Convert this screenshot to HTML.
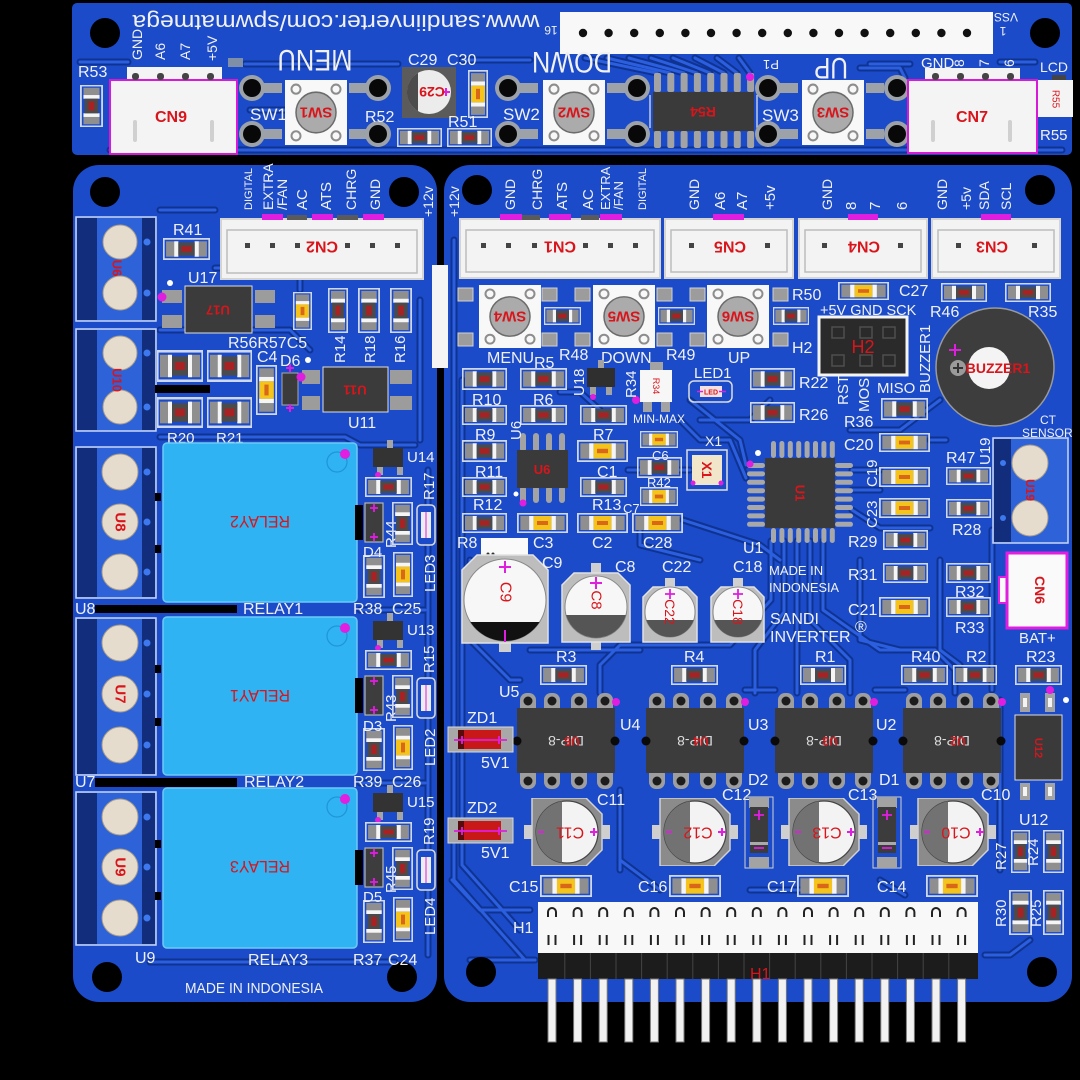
<!DOCTYPE html>
<html><head><meta charset="utf-8">
<style>
html,body{margin:0;padding:0;background:#000;width:1080px;height:1080px;overflow:hidden}
svg{display:block}
text{font-family:"Liberation Sans",Arial,sans-serif}
.w{fill:#f1f1f1}
.rd{fill:#d9151b;font-weight:bold}
.rn{fill:#d9151b;font-weight:normal}
</style></head><body>
<svg width="1080" height="1080" viewBox="0 0 1080 1080" xmlns="http://www.w3.org/2000/svg" font-size="16">
<defs>
<symbol id="rh" viewBox="0 0 46 20" preserveAspectRatio="none">
<rect x="0.8" y="0.8" width="44.4" height="18.4" fill="none" stroke="#cfd8ea" stroke-width="1.6"/>
<rect x="3" y="3" width="12" height="14" fill="#8f8f8f"/><rect x="31" y="3" width="12" height="14" fill="#8f8f8f"/>
<rect x="11" y="3" width="4" height="14" fill="#f5f5f5"/><rect x="31" y="3" width="4" height="14" fill="#f5f5f5"/>
<rect x="15" y="4" width="16" height="12" fill="#4b4b4b"/><rect x="18" y="7.5" width="10" height="5" fill="#a82224"/>
</symbol>
<symbol id="rv" viewBox="0 0 20 46" preserveAspectRatio="none">
<rect x="0.8" y="0.8" width="18.4" height="44.4" fill="none" stroke="#cfd8ea" stroke-width="1.6"/>
<rect x="3" y="3" width="14" height="12" fill="#8f8f8f"/><rect x="3" y="31" width="14" height="12" fill="#8f8f8f"/>
<rect x="3" y="11" width="14" height="4" fill="#f5f5f5"/><rect x="3" y="31" width="14" height="4" fill="#f5f5f5"/>
<rect x="4" y="15" width="12" height="16" fill="#4b4b4b"/><rect x="7.5" y="18" width="5" height="10" fill="#a82224"/>
</symbol>
<symbol id="ch" viewBox="0 0 46 20" preserveAspectRatio="none">
<rect x="0.8" y="0.8" width="44.4" height="18.4" fill="none" stroke="#cfd8ea" stroke-width="1.6"/>
<rect x="3" y="3" width="12" height="14" fill="#8f8f8f"/><rect x="31" y="3" width="12" height="14" fill="#8f8f8f"/>
<rect x="11" y="3" width="4" height="14" fill="#f5f5f5"/><rect x="31" y="3" width="4" height="14" fill="#f5f5f5"/>
<rect x="15" y="3" width="16" height="14" fill="#f4c41c"/><rect x="18" y="8" width="10" height="4" fill="#d8671a"/>
</symbol>
<symbol id="cv" viewBox="0 0 20 46" preserveAspectRatio="none">
<rect x="0.8" y="0.8" width="18.4" height="44.4" fill="none" stroke="#cfd8ea" stroke-width="1.6"/>
<rect x="3" y="3" width="14" height="12" fill="#8f8f8f"/><rect x="3" y="31" width="14" height="12" fill="#8f8f8f"/>
<rect x="3" y="11" width="14" height="4" fill="#f5f5f5"/><rect x="3" y="31" width="14" height="4" fill="#f5f5f5"/>
<rect x="3" y="15" width="14" height="16" fill="#f4c41c"/><rect x="8" y="18" width="4" height="10" fill="#d8671a"/>
</symbol>
<symbol id="sw" viewBox="0 0 62 64" preserveAspectRatio="none">
<rect width="62" height="64" fill="#f8f8f8"/>
<g fill="none" stroke="#8d8d8d" stroke-width="2"><circle cx="11" cy="9" r="4.5"/><circle cx="51" cy="9" r="4.5"/><circle cx="11" cy="55" r="4.5"/><circle cx="51" cy="55" r="4.5"/></g>
<circle cx="31" cy="32" r="20" fill="#ababab" stroke="#6b6b6b" stroke-width="1.5"/>
</symbol>
<symbol id="dip" viewBox="0 0 98 96" style="overflow:visible">
<g fill="#9e9e9e">
<rect x="3" y="0" width="16" height="22" rx="7"/><rect x="27" y="0" width="16" height="22" rx="7"/><rect x="54" y="0" width="16" height="22" rx="7"/><rect x="80" y="0" width="16" height="22" rx="7"/>
<rect x="3" y="74" width="16" height="22" rx="7"/><rect x="27" y="74" width="16" height="22" rx="7"/><rect x="54" y="74" width="16" height="22" rx="7"/><rect x="80" y="74" width="16" height="22" rx="7"/>
</g>
<g fill="#1c1c1c"><circle cx="11" cy="8" r="4.5"/><circle cx="35" cy="8" r="4.5"/><circle cx="62" cy="8" r="4.5"/><circle cx="88" cy="8" r="4.5"/>
<circle cx="11" cy="88" r="4.5"/><circle cx="35" cy="88" r="4.5"/><circle cx="62" cy="88" r="4.5"/><circle cx="88" cy="88" r="4.5"/></g>
<rect x="0" y="15" width="98" height="65" fill="#3c3c3c"/>
<circle cx="0" cy="48" r="4.5" fill="#0a0a0a"/><circle cx="98" cy="48" r="4.5" fill="#0a0a0a"/>
</symbol>
<symbol id="ec" viewBox="0 0 86 68">
<rect x="0" y="27" width="10" height="14" fill="#cfcfcf"/><rect x="76" y="27" width="10" height="14" fill="#cfcfcf"/>
<path d="M8 0 H62 L78 16 V52 L62 68 H8 Z" fill="#8b8b8b" stroke="#d2d2d2" stroke-width="1.5"/>
<circle cx="43" cy="34" r="31" fill="#f3f3f3" stroke="#444" stroke-width="1.2"/>
<path d="M38 3.4 A31 31 0 0 0 38 64.6 Z" fill="#727272"/>
<path d="M66 34 H74 M70 30 V38 M14 34 H20" stroke="#e01ee0" stroke-width="2"/>
</symbol>
<g id="tr" fill="none" stroke-linejoin="round" stroke-linecap="round">
<path d="M80 62 H128"/><path d="M245 64 H398"/><path d="M110 150 H1062"/><path d="M462 60 H530"/>
<path d="M585 58 L657 73"/><path d="M607 58 L670 73"/><path d="M629 58 L684 73"/><path d="M651 58 L697 73"/>
<path d="M673 58 L710 73"/><path d="M695 58 L724 73"/><path d="M717 58 L737 73"/><path d="M739 58 L750 73"/>
<path d="M870 64 H910"/><path d="M1000 62 H1035"/><path d="M250 110 H285"/><path d="M860 68 H900 L905 78"/>
<path d="M160 330 H290 L310 350"/><path d="M215 268 H280 L300 250 H420"/><path d="M420 300 V440"/>
<path d="M428 470 V955"/><path d="M415 445 H360 L345 437 H160"/><path d="M360 610 H425"/><path d="M360 783 H425"/>
<path d="M150 962 H395"/><path d="M160 210 H215"/><path d="M300 275 V290"/>
<path d="M454 240 V880 L525 960"/><path d="M462 380 V865 L520 930"/><path d="M470 560 V640 L510 680 H520"/>
<path d="M560 392 H580 L600 410"/><path d="M690 400 L740 440 L746 465"/><path d="M680 420 L700 440 H730 L746 478"/>
<path d="M628 470 H690"/><path d="M683 520 L760 545 L780 560"/>
<path d="M771 541 V600 L730 645 H620 L600 665 V693"/><path d="M784 541 V612 L755 650 V693"/>
<path d="M797 541 V693"/><path d="M810 541 V620 L850 660 V693"/><path d="M823 541 V610 L880 650 H935 L955 670 V693"/>
<path d="M852 470 H880"/><path d="M852 490 H880"/><path d="M852 510 L880 528 H930"/><path d="M930 440 H946"/>
<path d="M940 560 V650 L960 665"/><path d="M992 530 V690"/><path d="M452 880 L480 910 H530"/>
<path d="M620 790 V870"/><path d="M745 690 H775"/><path d="M875 690 H905"/><path d="M1000 700 V870"/>
<path d="M620 860 L660 890"/><path d="M750 890 H800"/><path d="M880 880 L905 895"/><path d="M470 960 H535"/>
<path d="M985 955 H1010 L1030 940"/><path d="M700 420 H750 L770 400"/><path d="M850 430 L900 430 L940 400"/>
<path d="M530 650 H640"/><path d="M860 560 V640 L900 650"/><path d="M640 520 V545 L700 560"/>
</g>
</defs>
<rect width="1080" height="1080" fill="#000"/>
<!-- boards -->
<rect x="72" y="3" width="1000" height="152" rx="5" fill="#1b4bc9"/>
<rect x="73" y="165" width="364" height="837" rx="26" fill="#1b4bc9"/>
<rect x="444" y="165" width="628" height="837" rx="26" fill="#1b4bc9"/>
<use href="#tr" stroke="#0f3391" stroke-width="7"/>
<use href="#tr" stroke="#2b5fdf" stroke-width="3"/>
<!-- holes -->
<g fill="#000">
<circle cx="105" cy="33" r="15"/><circle cx="1045" cy="33" r="15"/>
<circle cx="105" cy="192" r="15"/><circle cx="404" cy="192" r="15"/><circle cx="107" cy="977" r="15"/><circle cx="402" cy="977" r="15"/>
<circle cx="477" cy="190" r="15"/><circle cx="1040" cy="190" r="15"/><circle cx="481" cy="972" r="15"/><circle cx="1042" cy="972" r="15"/>
</g>

<!-- ============ TOP BOARD ============ -->
<text class="w" font-size="22" text-anchor="middle" textLength="407" lengthAdjust="spacingAndGlyphs" transform="translate(336,15) rotate(180)">www.sandiinverter.com/spwmatmega</text>
<rect x="560" y="12" width="433" height="42" fill="#f8f8f8"/>
<g fill="#111">
<circle cx="583" cy="33" r="4.2"/><circle cx="608.6" cy="33" r="4.2"/><circle cx="634.2" cy="33" r="4.2"/><circle cx="659.8" cy="33" r="4.2"/>
<circle cx="685.4" cy="33" r="4.2"/><circle cx="711" cy="33" r="4.2"/><circle cx="736.6" cy="33" r="4.2"/><circle cx="762.2" cy="33" r="4.2"/>
<circle cx="787.8" cy="33" r="4.2"/><circle cx="813.4" cy="33" r="4.2"/><circle cx="839" cy="33" r="4.2"/><circle cx="864.6" cy="33" r="4.2"/>
<circle cx="890.2" cy="33" r="4.2"/><circle cx="915.8" cy="33" r="4.2"/><circle cx="941.4" cy="33" r="4.2"/><circle cx="967" cy="33" r="4.2"/>
</g>
<text class="w" font-size="12" text-anchor="middle" transform="translate(551,26) rotate(180)">16</text>
<text class="w" font-size="12" text-anchor="middle" transform="translate(1006,13) rotate(180)">VSS</text>
<text class="w" font-size="12" text-anchor="middle" transform="translate(1003,27) rotate(180)">1</text>

<text class="w" font-size="14" transform="translate(142,60) rotate(-90)">GND</text>
<text class="w" font-size="14" transform="translate(165,60) rotate(-90)">A6</text>
<text class="w" font-size="14" transform="translate(190,60) rotate(-90)">A7</text>
<text class="w" font-size="14" transform="translate(217,61) rotate(-90)">+5V</text>
<rect x="228" y="58" width="15" height="9" fill="#7f8fa8"/>
<text class="w" x="78" y="77">R53</text>
<use href="#rv" x="80" y="85" width="23" height="42"/>
<!-- CN9 -->
<rect x="127" y="67" width="95" height="15" fill="#f4f4f4"/>
<rect x="110" y="80" width="127" height="74" fill="#f4f4f4" stroke="#d81ad8" stroke-width="2"/>
<g fill="#444"><rect x="132" y="73" width="7" height="7" rx="3"/><rect x="157" y="73" width="7" height="7" rx="3"/><rect x="182" y="73" width="7" height="7" rx="3"/><rect x="207" y="73" width="7" height="7" rx="3"/></g>
<path d="M135 122 V140 M212 122 V140" stroke="#d0d0d0" stroke-width="4" stroke-linecap="round"/>
<text class="rd" font-size="16" x="171" y="122" text-anchor="middle">CN9</text>
<!-- SW1 -->
<g fill="#9da2a8"><rect x="264" y="83" width="18" height="10"/><rect x="264" y="129" width="18" height="10"/><rect x="349" y="83" width="18" height="10"/><rect x="349" y="129" width="18" height="10"/>
<circle cx="252" cy="88" r="13"/><circle cx="252" cy="134" r="13"/><circle cx="378" cy="88" r="13"/><circle cx="378" cy="134" r="13"/></g>
<g fill="#080808"><circle cx="252" cy="88" r="9"/><circle cx="252" cy="134" r="9"/><circle cx="378" cy="88" r="9"/><circle cx="378" cy="134" r="9"/></g>
<use href="#sw" x="285" y="80" width="62" height="65"/>
<text class="rd" font-size="15" text-anchor="middle" dominant-baseline="central" transform="translate(316,112) rotate(180)">SW1</text>
<text class="w" font-size="17" x="250" y="120">SW1</text>
<text class="w" font-size="30" text-anchor="middle" textLength="75" lengthAdjust="spacingAndGlyphs" transform="translate(315,50) rotate(180)">MENU</text>
<!-- C29 C30 -->
<text class="w" x="408" y="65">C29</text><text class="w" x="447" y="65">C30</text>
<rect x="402" y="67" width="54" height="51" fill="#5b5b5b"/>
<circle cx="429" cy="92" r="22" fill="#ececec"/>
<path d="M418 72.9 A22 22 0 0 0 418 111.1 Z" fill="#4c4c4c"/>
<path d="M442 92 H450 M446 88 V96" stroke="#e01ee0" stroke-width="2"/>
<text class="rd" font-size="14" text-anchor="middle" dominant-baseline="central" transform="translate(432,92) rotate(180)">C29</text>
<use href="#cv" x="468" y="70" width="20" height="48"/>
<text class="w" x="365" y="122">R52</text><text class="w" x="448" y="127">R51</text>
<use href="#rh" x="397" y="128" width="45" height="19"/><use href="#rh" x="447" y="128" width="45" height="19"/>
<!-- SW2 -->
<g fill="#9da2a8"><rect x="520" y="83" width="18" height="10"/><rect x="520" y="129" width="18" height="10"/><rect x="607" y="83" width="18" height="10"/><rect x="607" y="129" width="18" height="10"/>
<circle cx="508" cy="88" r="13"/><circle cx="508" cy="134" r="13"/><circle cx="637" cy="88" r="13"/><circle cx="637" cy="134" r="13"/></g>
<g fill="#080808"><circle cx="508" cy="88" r="9"/><circle cx="508" cy="134" r="9"/><circle cx="637" cy="88" r="9"/><circle cx="637" cy="134" r="9"/></g>
<use href="#sw" x="543" y="80" width="62" height="65"/>
<text class="rd" font-size="15" text-anchor="middle" dominant-baseline="central" transform="translate(574,112) rotate(180)">SW2</text>
<text class="w" font-size="17" x="503" y="120">SW2</text>
<text class="w" font-size="30" text-anchor="middle" textLength="80" lengthAdjust="spacingAndGlyphs" transform="translate(572,52) rotate(180)">DOWN</text>
<!-- R54 IC -->
<g fill="#a3a3a3">
<rect x="654" y="73" width="7" height="19" rx="2"/><rect x="667.3" y="73" width="7" height="19" rx="2"/><rect x="680.6" y="73" width="7" height="19" rx="2"/><rect x="693.9" y="73" width="7" height="19" rx="2"/>
<rect x="707.2" y="73" width="7" height="19" rx="2"/><rect x="720.5" y="73" width="7" height="19" rx="2"/><rect x="733.8" y="73" width="7" height="19" rx="2"/><rect x="747.1" y="73" width="7" height="19" rx="2"/>
<rect x="654" y="131" width="7" height="17" rx="2"/><rect x="667.3" y="131" width="7" height="17" rx="2"/><rect x="680.6" y="131" width="7" height="17" rx="2"/><rect x="693.9" y="131" width="7" height="17" rx="2"/>
<rect x="707.2" y="131" width="7" height="17" rx="2"/><rect x="720.5" y="131" width="7" height="17" rx="2"/><rect x="733.8" y="131" width="7" height="17" rx="2"/><rect x="747.1" y="131" width="7" height="17" rx="2"/>
</g>
<rect x="653" y="92" width="101" height="39" fill="#3a3a3a"/>
<path d="M650 95 V128 M757 95 V128" stroke="#e8e8e8" stroke-width="1.2"/>
<circle cx="750" cy="77" r="4" fill="#e01ee0"/>
<text class="rd" font-size="14" text-anchor="middle" dominant-baseline="central" transform="translate(703,112) rotate(180)">R54</text>
<text class="w" font-size="13" text-anchor="middle" transform="translate(771,60) rotate(180)">P1</text>
<!-- SW3 -->
<g fill="#9da2a8"><rect x="780" y="83" width="18" height="10"/><rect x="780" y="129" width="18" height="10"/><rect x="866" y="83" width="18" height="10"/><rect x="866" y="129" width="18" height="10"/>
<circle cx="768" cy="88" r="13"/><circle cx="768" cy="134" r="13"/><circle cx="897" cy="88" r="13"/><circle cx="897" cy="134" r="13"/></g>
<g fill="#080808"><circle cx="768" cy="88" r="9"/><circle cx="768" cy="134" r="9"/><circle cx="897" cy="88" r="9"/><circle cx="897" cy="134" r="9"/></g>
<use href="#sw" x="802" y="80" width="62" height="65"/>
<text class="rd" font-size="15" text-anchor="middle" dominant-baseline="central" transform="translate(833,112) rotate(180)">SW3</text>
<text class="w" font-size="17" x="762" y="121">SW3</text>
<text class="w" font-size="30" text-anchor="middle" textLength="34" lengthAdjust="spacingAndGlyphs" transform="translate(831,58) rotate(180)">UP</text>
<!-- CN7 -->
<text class="w" font-size="15" x="921" y="68">GND</text>
<text class="w" font-size="14" transform="translate(964,67) rotate(-90)">8</text>
<text class="w" font-size="14" transform="translate(989,67) rotate(-90)">7</text>
<text class="w" font-size="14" transform="translate(1014,67) rotate(-90)">6</text>
<rect x="925" y="68" width="95" height="14" fill="#f4f4f4"/>
<rect x="908" y="80" width="129" height="73" fill="#f4f4f4" stroke="#d81ad8" stroke-width="2"/>
<g fill="#444"><rect x="932" y="73" width="7" height="7" rx="3"/><rect x="957" y="73" width="7" height="7" rx="3"/><rect x="982" y="73" width="7" height="7" rx="3"/><rect x="1007" y="73" width="7" height="7" rx="3"/></g>
<path d="M933 122 V140 M1010 122 V140" stroke="#d0d0d0" stroke-width="4" stroke-linecap="round"/>
<text class="rd" font-size="16" x="972" y="122" text-anchor="middle">CN7</text>
<text class="w" font-size="14" x="1040" y="72">LCD</text>
<rect x="1052" y="75" width="14" height="8" fill="#444"/>
<rect x="1038" y="80" width="35" height="37" fill="#f4f4f4"/>
<text class="rn" font-size="10" text-anchor="middle" dominant-baseline="central" transform="translate(1055,99) rotate(90)">R55</text>
<text class="w" font-size="15" x="1040" y="140">R55</text>

<!-- ============ LEFT BOARD ============ -->
<rect x="432" y="265" width="16" height="103" fill="#f5f5f5"/>
<g stroke="#c9d6f2" stroke-width="1.5" fill="#2d62d8">
<rect x="76" y="217" width="80" height="104"/><rect x="76" y="329" width="80" height="102"/>
<rect x="76" y="447" width="80" height="151"/><rect x="76" y="618" width="80" height="157"/><rect x="76" y="792" width="80" height="153"/>
</g>
<g fill="#112d7c">
<rect x="77" y="218" width="20" height="102"/><rect x="142" y="218" width="13" height="102"/>
<rect x="77" y="330" width="20" height="100"/><rect x="142" y="330" width="13" height="100"/>
<rect x="77" y="448" width="20" height="149"/><rect x="142" y="448" width="13" height="149"/>
<rect x="77" y="619" width="20" height="155"/><rect x="142" y="619" width="13" height="155"/>
<rect x="77" y="793" width="20" height="151"/><rect x="142" y="793" width="13" height="151"/>
</g>
<g fill="#e6dccd" stroke="#a79c8c" stroke-width="1">
<circle cx="120" cy="242" r="17"/><circle cx="120" cy="293" r="17"/>
<circle cx="120" cy="353" r="17"/><circle cx="120" cy="407" r="17"/>
<circle cx="120" cy="472" r="18"/><circle cx="120" cy="522" r="18"/><circle cx="120" cy="572" r="18"/>
<circle cx="120" cy="643" r="18"/><circle cx="120" cy="694" r="18"/><circle cx="120" cy="745" r="18"/>
<circle cx="120" cy="817" r="18"/><circle cx="120" cy="867" r="18"/><circle cx="120" cy="918" r="18"/>
</g>
<g fill="#3d78ee">
<circle cx="147" cy="242" r="3.5"/><circle cx="147" cy="293" r="3.5"/><circle cx="147" cy="353" r="3.5"/><circle cx="147" cy="407" r="3.5"/>
<circle cx="147" cy="472" r="3.5"/><circle cx="147" cy="522" r="3.5"/><circle cx="147" cy="572" r="3.5"/>
<circle cx="147" cy="643" r="3.5"/><circle cx="147" cy="694" r="3.5"/><circle cx="147" cy="745" r="3.5"/>
<circle cx="147" cy="817" r="3.5"/><circle cx="147" cy="867" r="3.5"/><circle cx="147" cy="918" r="3.5"/>
</g>
<g fill="#000"><rect x="155" y="493" width="6" height="8"/><rect x="155" y="545" width="6" height="8"/><rect x="155" y="665" width="6" height="8"/><rect x="155" y="718" width="6" height="8"/><rect x="155" y="840" width="6" height="8"/><rect x="155" y="892" width="6" height="8"/></g>
<text class="rd" font-size="13" text-anchor="middle" dominant-baseline="central" transform="translate(117,268) rotate(90)">U6</text>
<text class="rd" font-size="13" text-anchor="middle" dominant-baseline="central" transform="translate(117,380) rotate(90)">U10</text>
<text class="rd" font-size="15" text-anchor="middle" dominant-baseline="central" transform="translate(120,522) rotate(90)">U8</text>
<text class="rd" font-size="15" text-anchor="middle" dominant-baseline="central" transform="translate(120,694) rotate(90)">U7</text>
<text class="rd" font-size="15" text-anchor="middle" dominant-baseline="central" transform="translate(120,867) rotate(90)">U9</text>
<!-- CN2 -->
<text class="w" font-size="11" transform="translate(252,210) rotate(-90)">DIGITAL</text>
<text class="w" font-size="14" transform="translate(273,210) rotate(-90)">EXTRA</text>
<text class="w" font-size="14" transform="translate(287,210) rotate(-90)">/FAN</text>
<text class="w" font-size="15" transform="translate(307,210) rotate(-90)">AC</text>
<text class="w" font-size="15" transform="translate(331,210) rotate(-90)">ATS</text>
<text class="w" font-size="14" transform="translate(356,210) rotate(-90)">CHRG</text>
<text class="w" font-size="14" transform="translate(380,210) rotate(-90)">GND</text>
<text class="w" font-size="14" transform="translate(433,217) rotate(-90)">+12v</text>
<rect x="221" y="219" width="202" height="60" fill="#f3f3f3" stroke="#d4d4d4" stroke-width="2"/>
<rect x="227" y="230" width="190" height="43" fill="none" stroke="#bdbdbd" stroke-width="1.5"/>
<g fill="#444"><rect x="245" y="243" width="5" height="5"/><rect x="270" y="243" width="5" height="5"/><rect x="295" y="243" width="5" height="5"/><rect x="345" y="243" width="5" height="5"/><rect x="370" y="243" width="5" height="5"/><rect x="395" y="243" width="5" height="5"/></g>
<g fill="#e01ee0"><rect x="262" y="214" width="21" height="6"/><rect x="312" y="214" width="21" height="6"/><rect x="363" y="214" width="21" height="6"/></g>
<g fill="#5a5a5a"><rect x="287" y="215" width="20" height="5"/><rect x="337" y="215" width="21" height="5"/></g>
<text class="rd" font-size="16" text-anchor="middle" dominant-baseline="central" transform="translate(322,246) rotate(180)">CN2</text>
<!-- R41 U17 -->
<text class="w" x="173" y="235">R41</text>
<use href="#rh" x="163" y="238" width="47" height="22"/>
<text class="w" x="188" y="283">U17</text>
<g fill="#9c9c9c"><rect x="162" y="290" width="20" height="13"/><rect x="162" y="315" width="20" height="13"/><rect x="255" y="290" width="20" height="13"/><rect x="255" y="315" width="20" height="13"/></g>
<rect x="185" y="286" width="67" height="47" fill="#3b3b3b" stroke="#dcdcdc" stroke-width="1"/>
<circle cx="162" cy="297" r="4.5" fill="#e01ee0"/><circle cx="170" cy="283" r="3" fill="#fff"/>
<text class="rd" font-size="13" text-anchor="middle" dominant-baseline="central" transform="translate(218,310) rotate(180)">U17</text>
<use href="#cv" x="293" y="292" width="19" height="38"/>
<use href="#rv" x="328" y="288" width="20" height="45"/><use href="#rv" x="358" y="288" width="22" height="45"/><use href="#rv" x="390" y="288" width="22" height="45"/>
<text class="w" x="228" y="348">R56R57C5</text>
<text class="w" font-size="15" transform="translate(345,363) rotate(-90)">R14</text>
<text class="w" font-size="15" transform="translate(375,363) rotate(-90)">R18</text>
<text class="w" font-size="15" transform="translate(405,363) rotate(-90)">R16</text>
<text class="w" x="257" y="362">C4</text><text class="w" x="280" y="366">D6</text>
<use href="#rh" x="157" y="350" width="46" height="32"/><use href="#rh" x="207" y="350" width="45" height="32"/>
<use href="#rh" x="157" y="397" width="46" height="31"/><use href="#rh" x="207" y="397" width="45" height="31"/>
<rect x="155" y="385" width="55" height="8" fill="#000"/>
<use href="#cv" x="256" y="365" width="21" height="50"/>
<rect x="282" y="373" width="16" height="32" fill="#3b3b3b" stroke="#aaa" stroke-width="1"/>
<path d="M286 368 H294 M290 364 V372 M286 408 H294 M290 404 V412" stroke="#e01ee0" stroke-width="2"/>
<g fill="#9c9c9c"><rect x="302" y="370" width="18" height="14"/><rect x="302" y="396" width="18" height="14"/><rect x="390" y="370" width="22" height="14"/><rect x="390" y="396" width="22" height="14"/></g>
<rect x="323" y="367" width="65" height="45" fill="#3b3b3b" stroke="#dcdcdc" stroke-width="1"/>
<circle cx="301" cy="377" r="4.5" fill="#e01ee0"/><circle cx="308" cy="360" r="3" fill="#fff"/>
<text class="rd" font-size="13" text-anchor="middle" dominant-baseline="central" transform="translate(355,390) rotate(180)">U11</text>
<text class="w" x="348" y="428">U11</text>
<text class="w" font-size="15" x="167" y="443">R20</text><text class="w" font-size="15" x="216" y="443">R21</text>

<!-- relays -->
<g fill="#2fb3f3" stroke="#6cc9f7" stroke-width="1.5">
<rect x="163" y="443" width="194" height="159" rx="4"/><rect x="163" y="617" width="194" height="158" rx="4"/><rect x="163" y="788" width="194" height="160" rx="4"/>
</g>
<g fill="none" stroke="#1f95d6" stroke-width="1.2"><circle cx="337" cy="462" r="10"/><circle cx="337" cy="636" r="10"/><circle cx="337" cy="807" r="10"/></g>
<g fill="#e21ee0"><circle cx="345" cy="454" r="5"/><circle cx="345" cy="628" r="5"/><circle cx="345" cy="799" r="5"/></g>
<text class="rn" font-size="17" text-anchor="middle" textLength="60" lengthAdjust="spacingAndGlyphs" transform="translate(260,516) rotate(180)">RELAY2</text>
<text class="rn" font-size="17" text-anchor="middle" textLength="60" lengthAdjust="spacingAndGlyphs" transform="translate(260,690) rotate(180)">RELAY1</text>
<text class="rn" font-size="17" text-anchor="middle" textLength="60" lengthAdjust="spacingAndGlyphs" transform="translate(260,861) rotate(180)">RELAY3</text>
<g fill="#000"><rect x="95" y="605" width="142" height="8"/><rect x="95" y="778" width="142" height="9"/>
<rect x="355" y="505" width="8" height="35"/><rect x="355" y="678" width="8" height="35"/><rect x="355" y="850" width="8" height="35"/></g>

<!-- relay column block o=0 -->
<text class="w" font-size="15" transform="translate(396,548) rotate(-90)">R44</text>
<rect x="373" y="448" width="30" height="19" fill="#333"/>
<g fill="#a5a5a5"><rect x="387" y="440" width="6" height="8"/><rect x="377" y="467" width="6" height="8"/><rect x="397" y="467" width="6" height="8"/></g>
<circle cx="378" cy="475" r="3" fill="#e01ee0"/>
<use href="#rh" x="365" y="477" width="47" height="20"/>
<rect x="365" y="503" width="18" height="39" fill="#3d3d3d" stroke="#b5b5b5" stroke-width="1.2"/>
<path d="M370 508 H378 M374 504 V512 M370 537 H378 M374 533 V541" stroke="#e01ee0" stroke-width="1.8"/>
<use href="#rv" x="392" y="502" width="21" height="43"/>
<rect x="417" y="505" width="18" height="40" rx="4" fill="#1b4bc9" stroke="#dcdcdc" stroke-width="1.5"/>
<rect x="421" y="512" width="10" height="26" fill="#ededed"/><path d="M426 512 V538" stroke="#e01ee0" stroke-width="1"/>
<use href="#rv" x="363" y="555" width="22" height="43"/><use href="#cv" x="393" y="552" width="20" height="45"/>
<text class="w" font-size="15" x="407" y="462">U14</text>
<text class="w" font-size="15" transform="translate(434,500) rotate(-90)">R17</text>
<text class="w" font-size="15" x="363" y="557">D4</text>
<text class="w" font-size="15" transform="translate(435,592) rotate(-90)">LED3</text>
<text class="w" x="353" y="614">R38</text><text class="w" x="392" y="614">C25</text>
<text class="w" x="75" y="614">U8</text><text class="w" x="243" y="614">RELAY1</text>

<!-- o=173 -->
<text class="w" font-size="15" transform="translate(396,722) rotate(-90)">R43</text>
<rect x="373" y="621" width="30" height="19" fill="#333"/>
<g fill="#a5a5a5"><rect x="387" y="613" width="6" height="8"/><rect x="377" y="640" width="6" height="8"/><rect x="397" y="640" width="6" height="8"/></g>
<circle cx="378" cy="648" r="3" fill="#e01ee0"/>
<use href="#rh" x="365" y="650" width="47" height="20"/>
<rect x="365" y="676" width="18" height="39" fill="#3d3d3d" stroke="#b5b5b5" stroke-width="1.2"/>
<path d="M370 681 H378 M374 677 V685 M370 710 H378 M374 706 V714" stroke="#e01ee0" stroke-width="1.8"/>
<use href="#rv" x="392" y="675" width="21" height="43"/>
<rect x="417" y="678" width="18" height="40" rx="4" fill="#1b4bc9" stroke="#dcdcdc" stroke-width="1.5"/>
<rect x="421" y="685" width="10" height="26" fill="#ededed"/><path d="M426 685 V711" stroke="#e01ee0" stroke-width="1"/>
<use href="#rv" x="363" y="728" width="22" height="43"/><use href="#cv" x="393" y="725" width="20" height="45"/>
<text class="w" font-size="15" x="407" y="635">U13</text>
<text class="w" font-size="15" transform="translate(434,673) rotate(-90)">R15</text>
<text class="w" font-size="15" x="363" y="731">D3</text>
<text class="w" font-size="15" transform="translate(435,766) rotate(-90)">LED2</text>
<text class="w" x="353" y="787">R39</text><text class="w" x="392" y="787">C26</text>
<text class="w" x="75" y="787">U7</text><text class="w" x="244" y="787">RELAY2</text>

<!-- o=345 -->
<text class="w" font-size="15" transform="translate(396,893) rotate(-90)">R45</text>
<rect x="373" y="793" width="30" height="19" fill="#333"/>
<g fill="#a5a5a5"><rect x="387" y="785" width="6" height="8"/><rect x="377" y="812" width="6" height="8"/><rect x="397" y="812" width="6" height="8"/></g>
<circle cx="378" cy="820" r="3" fill="#e01ee0"/>
<use href="#rh" x="365" y="822" width="47" height="20"/>
<rect x="365" y="848" width="18" height="39" fill="#3d3d3d" stroke="#b5b5b5" stroke-width="1.2"/>
<path d="M370 853 H378 M374 849 V857 M370 882 H378 M374 878 V886" stroke="#e01ee0" stroke-width="1.8"/>
<use href="#rv" x="392" y="847" width="21" height="43"/>
<rect x="417" y="850" width="18" height="40" rx="4" fill="#1b4bc9" stroke="#dcdcdc" stroke-width="1.5"/>
<rect x="421" y="857" width="10" height="26" fill="#ededed"/><path d="M426 857 V883" stroke="#e01ee0" stroke-width="1"/>
<use href="#rv" x="363" y="900" width="22" height="43"/><use href="#cv" x="393" y="897" width="20" height="45"/>
<text class="w" font-size="15" x="407" y="807">U15</text>
<text class="w" font-size="15" transform="translate(434,845) rotate(-90)">R19</text>
<text class="w" font-size="15" x="363" y="902">D5</text>
<text class="w" font-size="15" transform="translate(435,935) rotate(-90)">LED4</text>
<text class="w" x="353" y="965">R37</text><text class="w" x="388" y="965">C24</text>
<text class="w" x="135" y="963">U9</text><text class="w" x="248" y="965">RELAY3</text>
<text class="w" font-size="15" x="185" y="993" textLength="138" lengthAdjust="spacingAndGlyphs">MADE IN INDONESIA</text>

<!-- ============ RIGHT BOARD ============ -->
<text class="w" font-size="14" transform="translate(459,217) rotate(-90)">+12v</text>
<text class="w" font-size="14" transform="translate(515,210) rotate(-90)">GND</text>
<text class="w" font-size="14" transform="translate(542,210) rotate(-90)">CHRG</text>
<text class="w" font-size="15" transform="translate(567,210) rotate(-90)">ATS</text>
<text class="w" font-size="15" transform="translate(593,210) rotate(-90)">AC</text>
<text class="w" font-size="13" transform="translate(610,210) rotate(-90)">EXTRA</text>
<text class="w" font-size="13" transform="translate(623,210) rotate(-90)">/FAN</text>
<text class="w" font-size="11" transform="translate(646,210) rotate(-90)">DIGITAL</text>
<text class="w" font-size="14" transform="translate(699,210) rotate(-90)">GND</text>
<text class="w" font-size="15" transform="translate(725,210) rotate(-90)">A6</text>
<text class="w" font-size="15" transform="translate(747,210) rotate(-90)">A7</text>
<text class="w" font-size="15" transform="translate(775,210) rotate(-90)">+5v</text>
<text class="w" font-size="14" transform="translate(832,210) rotate(-90)">GND</text>
<text class="w" font-size="15" transform="translate(856,210) rotate(-90)">8</text>
<text class="w" font-size="15" transform="translate(880,210) rotate(-90)">7</text>
<text class="w" font-size="15" transform="translate(907,210) rotate(-90)">6</text>
<text class="w" font-size="14" transform="translate(947,210) rotate(-90)">GND</text>
<text class="w" font-size="14" transform="translate(971,210) rotate(-90)">+5v</text>
<text class="w" font-size="14" transform="translate(989,210) rotate(-90)">SDA</text>
<text class="w" font-size="14" transform="translate(1011,210) rotate(-90)">SCL</text>
<g fill="#f3f3f3" stroke="#d4d4d4" stroke-width="2">
<rect x="460" y="219" width="200" height="59"/><rect x="665" y="219" width="128" height="59"/><rect x="799" y="219" width="128" height="59"/><rect x="932" y="219" width="128" height="59"/>
</g>
<g fill="none" stroke="#bdbdbd" stroke-width="1.5">
<rect x="466" y="230" width="188" height="42"/><rect x="671" y="230" width="116" height="42"/><rect x="805" y="230" width="116" height="42"/><rect x="938" y="230" width="116" height="42"/>
</g>
<g fill="#444">
<rect x="481" y="243" width="5" height="5"/><rect x="506" y="243" width="5" height="5"/><rect x="532" y="243" width="5" height="5"/><rect x="583" y="243" width="5" height="5"/><rect x="608" y="243" width="5" height="5"/><rect x="633" y="243" width="5" height="5"/>
<rect x="689" y="243" width="5" height="5"/><rect x="765" y="243" width="5" height="5"/><rect x="822" y="243" width="5" height="5"/><rect x="898" y="243" width="5" height="5"/>
<rect x="956" y="243" width="5" height="5"/><rect x="1032" y="243" width="5" height="5"/>
</g>
<g fill="#e01ee0"><rect x="500" y="214" width="22" height="6"/><rect x="549" y="214" width="22" height="6"/><rect x="600" y="214" width="22" height="6"/>
<rect x="713" y="214" width="31" height="6"/><rect x="848" y="214" width="30" height="6"/><rect x="981" y="214" width="30" height="6"/></g>
<g fill="#5a5a5a"><rect x="522" y="215" width="18" height="5"/><rect x="581" y="215" width="18" height="5"/></g>
<text class="rd" font-size="16" text-anchor="middle" dominant-baseline="central" transform="translate(560,246) rotate(180)">CN1</text>
<text class="rd" font-size="16" text-anchor="middle" dominant-baseline="central" transform="translate(730,246) rotate(180)">CN5</text>
<text class="rd" font-size="16" text-anchor="middle" dominant-baseline="central" transform="translate(864,246) rotate(180)">CN4</text>
<text class="rd" font-size="16" text-anchor="middle" dominant-baseline="central" transform="translate(992,246) rotate(180)">CN3</text>
<!-- switches -->
<g fill="#9c9c9c" stroke="#d0d0d0" stroke-width="1">
<rect x="458" y="288" width="15" height="13"/><rect x="458" y="333" width="15" height="13"/><rect x="542" y="288" width="15" height="13"/><rect x="542" y="333" width="15" height="13"/>
<rect x="575" y="288" width="15" height="13"/><rect x="575" y="333" width="15" height="13"/><rect x="657" y="288" width="15" height="13"/><rect x="657" y="333" width="15" height="13"/>
<rect x="690" y="288" width="15" height="13"/><rect x="690" y="333" width="15" height="13"/><rect x="773" y="288" width="15" height="13"/><rect x="773" y="333" width="15" height="13"/>
</g>
<use href="#sw" x="479" y="285" width="62" height="63"/><use href="#sw" x="593" y="285" width="62" height="63"/><use href="#sw" x="707" y="285" width="62" height="63"/>
<text class="rd" font-size="15" text-anchor="middle" dominant-baseline="central" transform="translate(510,316) rotate(180)">SW4</text>
<text class="rd" font-size="15" text-anchor="middle" dominant-baseline="central" transform="translate(624,316) rotate(180)">SW5</text>
<text class="rd" font-size="15" text-anchor="middle" dominant-baseline="central" transform="translate(738,316) rotate(180)">SW6</text>
<use href="#rh" x="544" y="307" width="37" height="18"/><use href="#rh" x="658" y="307" width="37" height="18"/><use href="#rh" x="773" y="307" width="36" height="18"/>
<text class="w" x="487" y="363">MENU</text><text class="w" x="534" y="368">R5</text><text class="w" x="559" y="360">R48</text>
<text class="w" x="601" y="363">DOWN</text><text class="w" x="666" y="360">R49</text><text class="w" x="728" y="363">UP</text>
<text class="w" x="792" y="300">R50</text><text class="w" x="792" y="353">H2</text>
<use href="#ch" x="838" y="282" width="51" height="18"/>
<text class="w" x="899" y="296">C27</text>
<text class="w" font-size="14.5" x="820" y="315">+5V GND SCK</text>
<rect x="819" y="317" width="88" height="58" fill="#2a2a2a" stroke="#f4f4f4" stroke-width="3"/>
<g fill="none" stroke="#4e4e4e" stroke-width="1.5"><rect x="832" y="327" width="12" height="11"/><rect x="860" y="327" width="12" height="11"/><rect x="883" y="327" width="12" height="11"/><rect x="832" y="355" width="12" height="11"/><rect x="860" y="355" width="12" height="11"/><rect x="883" y="355" width="12" height="11"/></g>
<text class="rn" font-size="18" x="863" y="353" text-anchor="middle">H2</text>
<text class="w" font-size="15" transform="translate(848,405) rotate(-90)">RST</text>
<text class="w" font-size="15" transform="translate(869,412) rotate(-90)">MOSI</text>
<text class="w" font-size="15" x="877" y="393">MISO</text>
<text class="w" font-size="15" transform="translate(930,393) rotate(-90)">BUZZER1</text>
<use href="#rh" x="941" y="283" width="46" height="19"/><use href="#rh" x="1005" y="283" width="46" height="19"/>
<text class="w" x="930" y="317">R46</text><text class="w" x="1028" y="317">R35</text>
<circle cx="995" cy="367" r="59" fill="#3d3d3d" stroke="#9a9a9a" stroke-width="1.5"/>
<circle cx="989" cy="368" r="21" fill="#f4f4f4"/>
<circle cx="958" cy="368" r="8" fill="#9a9a9a"/><path d="M953 368 H963 M958 363 V373" stroke="#333" stroke-width="2"/>
<path d="M949 350 H961 M955 344 V356" stroke="#e01ee0" stroke-width="2"/>
<text class="rd" font-size="14" x="998" y="373" text-anchor="middle">BUZZER1</text>
<!-- left column small parts -->
<use href="#rh" x="462" y="368" width="45" height="22"/><use href="#rh" x="520" y="368" width="47" height="22"/>
<use href="#rh" x="462" y="405" width="45" height="20"/><use href="#rh" x="520" y="405" width="47" height="20"/><use href="#rh" x="580" y="405" width="47" height="20"/>
<use href="#rh" x="462" y="440" width="45" height="22"/><use href="#ch" x="577" y="440" width="51" height="22"/>
<use href="#rh" x="462" y="477" width="45" height="20"/><use href="#rh" x="580" y="477" width="47" height="20"/>
<use href="#rh" x="462" y="513" width="45" height="20"/><use href="#ch" x="517" y="513" width="51" height="20"/><use href="#ch" x="577" y="513" width="51" height="20"/><use href="#ch" x="632" y="513" width="51" height="20"/>
<text class="w" x="472" y="405">R10</text><text class="w" x="533" y="405">R6</text>
<text class="w" x="475" y="440">R9</text><text class="w" x="593" y="440">R7</text>
<text class="w" x="475" y="477">R11</text><text class="w" x="597" y="477">C1</text>
<text class="w" x="473" y="510">R12</text><text class="w" x="592" y="510">R13</text><text class="w" font-size="13" x="623" y="513">C7</text>
<text class="w" x="457" y="548">R8</text><text class="w" x="533" y="548">C3</text><text class="w" x="592" y="548">C2</text><text class="w" x="643" y="548">C28</text>
<!-- U6 -->
<g fill="#a3a3a3"><rect x="520" y="433" width="6" height="19" rx="3"/><rect x="533" y="433" width="6" height="19" rx="3"/><rect x="546" y="433" width="6" height="19" rx="3"/><rect x="559" y="433" width="6" height="19" rx="3"/>
<rect x="520" y="486" width="6" height="17" rx="3"/><rect x="533" y="486" width="6" height="17" rx="3"/><rect x="546" y="486" width="6" height="17" rx="3"/><rect x="559" y="486" width="6" height="17" rx="3"/></g>
<rect x="517" y="450" width="51" height="38" fill="#3a3a3a"/>
<circle cx="523" cy="503" r="3.5" fill="#e01ee0"/><circle cx="516" cy="494" r="2.5" fill="#fff"/>
<text class="rd" font-size="13" x="542" y="474" text-anchor="middle">U6</text>
<text class="w" font-size="15" transform="translate(521,440) rotate(-90)">U6</text>
<!-- U18 -->
<rect x="598" y="360" width="6" height="8" fill="#a3a3a3"/><rect x="590" y="387" width="6" height="8" fill="#a3a3a3"/><rect x="606" y="387" width="6" height="8" fill="#a3a3a3"/>
<rect x="587" y="368" width="28" height="19" fill="#2f2f2f"/><circle cx="593" cy="397" r="3" fill="#e01ee0"/>
<text class="w" font-size="15" transform="translate(584,396) rotate(-90)">U18</text>
<!-- R34 trimmer -->
<rect x="650" y="362" width="13" height="8" fill="#a3a3a3"/><rect x="643" y="402" width="9" height="10" fill="#a3a3a3"/><rect x="661" y="402" width="9" height="10" fill="#a3a3a3"/>
<rect x="640" y="370" width="32" height="32" fill="#f7f7f7"/>
<text class="rn" font-size="9" text-anchor="middle" dominant-baseline="central" transform="translate(656,386) rotate(90)">R34</text>
<circle cx="636" cy="400" r="4" fill="#e01ee0"/>
<text class="w" font-size="15" transform="translate(636,398) rotate(-90)">R34</text>
<text class="w" font-size="12" x="633" y="423">MIN-MAX</text>
<text class="w" font-size="15" x="694" y="378">LED1</text>
<rect x="689" y="381" width="43" height="21" rx="5" fill="none" stroke="#dcdcdc" stroke-width="1.5"/>
<rect x="700" y="386" width="22" height="11" fill="#f3e0e0"/>
<path d="M697 391.5 H703 M719 391.5 H726" stroke="#e01ee0" stroke-width="1.5"/>
<text class="rd" font-size="7" x="711" y="394.5" text-anchor="middle">LED</text>
<use href="#ch" x="640" y="431" width="38" height="17"/>
<text class="w" font-size="13" x="652" y="460">C6</text>
<use href="#rh" x="637" y="457" width="45" height="21"/>
<text class="w" font-size="13" x="647" y="487">R42</text>
<use href="#ch" x="640" y="487" width="38" height="19"/>
<text class="w" font-size="14" x="705" y="446">X1</text>
<rect x="687" y="450" width="40" height="40" fill="none" stroke="#e0e0e0" stroke-width="1.5"/>
<rect x="692" y="455" width="30" height="30" fill="#f1e6c9"/>
<text class="rd" font-size="14" text-anchor="middle" dominant-baseline="central" transform="translate(707,470) rotate(90)">X1</text>
<circle cx="693" cy="483" r="2.5" fill="#e01ee0"/><circle cx="721" cy="483" r="2.5" fill="#e01ee0"/>
<use href="#rh" x="750" y="368" width="45" height="22"/><use href="#rh" x="750" y="402" width="45" height="21"/>
<text class="w" x="799" y="388">R22</text><text class="w" x="799" y="420">R26</text>
<use href="#rh" x="881" y="398" width="47" height="22"/>
<text class="w" x="844" y="427">R36</text>
<!-- U1 -->
<g fill="#a8a8a8">
<rect x="771" y="441" width="5" height="17" rx="2.5"/><rect x="779.4" y="441" width="5" height="17" rx="2.5"/><rect x="787.8" y="441" width="5" height="17" rx="2.5"/><rect x="796.2" y="441" width="5" height="17" rx="2.5"/>
<rect x="804.6" y="441" width="5" height="17" rx="2.5"/><rect x="813" y="441" width="5" height="17" rx="2.5"/><rect x="821.4" y="441" width="5" height="17" rx="2.5"/><rect x="829.8" y="441" width="5" height="17" rx="2.5"/>
<rect x="771" y="528" width="5" height="15" rx="2.5"/><rect x="779.4" y="528" width="5" height="15" rx="2.5"/><rect x="787.8" y="528" width="5" height="15" rx="2.5"/><rect x="796.2" y="528" width="5" height="15" rx="2.5"/>
<rect x="804.6" y="528" width="5" height="15" rx="2.5"/><rect x="813" y="528" width="5" height="15" rx="2.5"/><rect x="821.4" y="528" width="5" height="15" rx="2.5"/><rect x="829.8" y="528" width="5" height="15" rx="2.5"/>
<rect x="747" y="463" width="18" height="5" rx="2.5"/><rect x="747" y="471.4" width="18" height="5" rx="2.5"/><rect x="747" y="479.8" width="18" height="5" rx="2.5"/><rect x="747" y="488.2" width="18" height="5" rx="2.5"/>
<rect x="747" y="496.6" width="18" height="5" rx="2.5"/><rect x="747" y="505" width="18" height="5" rx="2.5"/><rect x="747" y="513.4" width="18" height="5" rx="2.5"/><rect x="747" y="521.8" width="18" height="5" rx="2.5"/>
<rect x="835" y="463" width="18" height="5" rx="2.5"/><rect x="835" y="471.4" width="18" height="5" rx="2.5"/><rect x="835" y="479.8" width="18" height="5" rx="2.5"/><rect x="835" y="488.2" width="18" height="5" rx="2.5"/>
<rect x="835" y="496.6" width="18" height="5" rx="2.5"/><rect x="835" y="505" width="18" height="5" rx="2.5"/><rect x="835" y="513.4" width="18" height="5" rx="2.5"/><rect x="835" y="521.8" width="18" height="5" rx="2.5"/>
</g>
<rect x="765" y="458" width="70" height="70" fill="#3a3a3a"/>
<circle cx="750" cy="464" r="3.5" fill="#e01ee0"/><circle cx="758" cy="453" r="3" fill="#fff"/>
<text class="rd" font-size="13" text-anchor="middle" dominant-baseline="central" transform="translate(800,493) rotate(90)">U1</text>
<text class="w" x="743" y="553">U1</text>
<!-- right caps/resistors -->
<use href="#ch" x="879" y="433" width="51" height="19"/><use href="#ch" x="879" y="467" width="51" height="20"/><use href="#ch" x="879" y="498" width="51" height="20"/>
<use href="#rh" x="883" y="530" width="45" height="20"/><use href="#rh" x="883" y="563" width="45" height="20"/><use href="#ch" x="879" y="597" width="51" height="20"/>
<use href="#rh" x="946" y="467" width="45" height="18"/><use href="#rh" x="946" y="499" width="45" height="19"/><use href="#rh" x="946" y="563" width="45" height="20"/><use href="#rh" x="946" y="597" width="45" height="20"/>
<text class="w" x="844" y="450">C20</text>
<text class="w" font-size="15" transform="translate(877,487) rotate(-90)">C19</text>
<text class="w" font-size="15" transform="translate(877,528) rotate(-90)">C23</text>
<text class="w" x="848" y="547">R29</text><text class="w" x="848" y="580">R31</text><text class="w" x="848" y="615">C21</text>
<text class="w" x="946" y="463">R47</text><text class="w" x="952" y="535">R28</text><text class="w" x="955" y="597">R32</text><text class="w" x="955" y="633">R33</text>
<text class="w" font-size="15" transform="translate(990,465) rotate(-90)">U19</text>
<text class="w" font-size="12" x="1040" y="424">CT</text>
<text class="w" font-size="12" x="1022" y="437">SENSOR</text>
<rect x="993" y="438" width="75" height="105" fill="#2d62d8" stroke="#c9d6f2" stroke-width="1.5"/>
<rect x="994" y="439" width="17" height="103" fill="#112d7c"/>
<circle cx="1030" cy="463" r="18" fill="#e6dccd" stroke="#a79c8c"/><circle cx="1030" cy="518" r="18" fill="#e6dccd" stroke="#a79c8c"/>
<circle cx="1003" cy="463" r="3" fill="#3d78ee"/><circle cx="1003" cy="518" r="3" fill="#3d78ee"/>
<text class="rd" font-size="12" text-anchor="middle" dominant-baseline="central" transform="translate(1030,490) rotate(90)">U19</text>
<rect x="999" y="577" width="10" height="26" fill="#fafafa" stroke="#e01ee0" stroke-width="2"/>
<rect x="1007" y="553" width="60" height="75" fill="#fafafa" stroke="#e01ee0" stroke-width="3"/>
<text class="rd" font-size="14" text-anchor="middle" dominant-baseline="central" transform="translate(1040,590) rotate(90)">CN6</text>
<text class="w" font-size="15" x="1019" y="643">BAT+</text>
<!-- big caps -->
<rect x="481" y="538" width="47" height="20" fill="#fafafa"/><circle cx="488" cy="554" r="1.5" fill="#333"/><circle cx="493" cy="554" r="1.5" fill="#333"/>
<rect x="499" y="641" width="12" height="11" fill="#cfcfcf"/>
<path d="M462 570 L477 555 H533 L548 570 V643 H462 Z" fill="#bdbdbd" stroke="#e2e2e2" stroke-width="1.5"/>
<circle cx="505" cy="600" r="41" fill="#f7f7f7" stroke="#8a8a8a" stroke-width="1"/>
<path d="M470.4 622 A41 41 0 0 0 539.6 622 Z" fill="#111"/>
<path d="M499 567 H511 M505 561 V573 M505 630 V642" stroke="#e01ee0" stroke-width="2"/>
<text class="rn" font-size="16" text-anchor="middle" dominant-baseline="central" transform="translate(505,592) rotate(90)">C9</text>
<text class="w" x="542" y="568">C9</text>
<rect x="591" y="563" width="10" height="11" fill="#cfcfcf"/><rect x="591" y="641" width="10" height="9" fill="#cfcfcf"/>
<path d="M562 585 L574 573 H618 L630 585 V642 H562 Z" fill="#bdbdbd" stroke="#e2e2e2" stroke-width="1.5"/>
<circle cx="596" cy="607" r="31" fill="#f7f7f7" stroke="#8a8a8a" stroke-width="1"/>
<path d="M566.1 615 A31 31 0 0 0 625.9 615 Z" fill="#555"/>
<path d="M590 583 H602 M596 577 V589" stroke="#e01ee0" stroke-width="2"/>
<text class="rn" font-size="15" text-anchor="middle" dominant-baseline="central" transform="translate(596,600) rotate(90)">C8</text>
<text class="w" x="615" y="572">C8</text>
<rect x="665" y="578" width="10" height="10" fill="#cfcfcf"/>
<path d="M643 597 L653 587 H687 L697 597 V642 H643 Z" fill="#bdbdbd" stroke="#e2e2e2" stroke-width="1.5"/>
<circle cx="670" cy="612" r="25" fill="#f7f7f7" stroke="#8a8a8a" stroke-width="1"/>
<path d="M646.3 620 A25 25 0 0 0 693.7 620 Z" fill="#555"/>
<path d="M665 594 H675 M670 589 V599" stroke="#e01ee0" stroke-width="1.8"/>
<text class="rn" font-size="14" text-anchor="middle" dominant-baseline="central" transform="translate(670,612) rotate(90)">C22</text>
<text class="w" x="662" y="572">C22</text>
<rect x="733" y="578" width="10" height="10" fill="#cfcfcf"/>
<path d="M711 597 L721 587 H754 L764 597 V642 H711 Z" fill="#bdbdbd" stroke="#e2e2e2" stroke-width="1.5"/>
<circle cx="738" cy="612" r="25" fill="#f7f7f7" stroke="#8a8a8a" stroke-width="1"/>
<path d="M714.3 620 A25 25 0 0 0 761.7 620 Z" fill="#555"/>
<path d="M733 594 H743 M738 589 V599" stroke="#e01ee0" stroke-width="1.8"/>
<text class="rn" font-size="14" text-anchor="middle" dominant-baseline="central" transform="translate(738,612) rotate(90)">C18</text>
<text class="w" x="733" y="572">C18</text>
<text class="w" font-size="13" x="769" y="575">MADE IN</text>
<text class="w" font-size="13" x="769" y="592" textLength="70" lengthAdjust="spacingAndGlyphs">INDONESIA</text>
<text class="w" font-size="16" x="770" y="624">SANDI</text>
<text class="w" font-size="16" x="770" y="642">INVERTER</text>
<text class="w" font-size="16" x="855" y="632">®</text>
<!-- resistor row -->
<use href="#rh" x="540" y="665" width="47" height="20"/><use href="#rh" x="671" y="665" width="47" height="20"/><use href="#rh" x="800" y="665" width="46" height="20"/>
<use href="#rh" x="901" y="665" width="47" height="20"/><use href="#rh" x="953" y="665" width="44" height="20"/><use href="#rh" x="1015" y="665" width="47" height="20"/>
<text class="w" x="556" y="662">R3</text><text class="w" x="684" y="662">R4</text><text class="w" x="815" y="662">R1</text>
<text class="w" x="911" y="662">R40</text><text class="w" x="966" y="662">R2</text><text class="w" x="1026" y="662">R23</text>
<!-- DIPs -->
<use href="#dip" x="517" y="693" width="98" height="96"/><use href="#dip" x="646" y="693" width="98" height="96"/>
<use href="#dip" x="775" y="693" width="98" height="96"/><use href="#dip" x="903" y="693" width="98" height="96"/>
<g fill="#e01ee0"><circle cx="616" cy="702" r="4"/><circle cx="745" cy="702" r="4"/><circle cx="874" cy="702" r="4"/><circle cx="1002" cy="702" r="4"/></g>
<g font-size="14" fill="#dcdcdc" text-anchor="middle" dominant-baseline="central">
<text transform="translate(566,741) rotate(180)">DIP-8</text><text transform="translate(695,741) rotate(180)">DIP-8</text>
<text transform="translate(824,741) rotate(180)">DIP-8</text><text transform="translate(952,741) rotate(180)">DIP-8</text>
</g>
<g class="rd" font-size="12" text-anchor="middle" dominant-baseline="central">
<text transform="translate(572,741) rotate(180)">U5</text><text transform="translate(701,741) rotate(180)">U4</text>
<text transform="translate(830,741) rotate(180)">U3</text><text transform="translate(958,741) rotate(180)">U2</text>
</g>
<text class="w" x="499" y="697">U5</text><text class="w" x="620" y="730">U4</text><text class="w" x="748" y="730">U3</text><text class="w" x="876" y="730">U2</text>
<!-- zeners -->
<rect x="448" y="727" width="65" height="25" fill="#a8a8a8" stroke="#d8d8d8" stroke-width="1"/>
<rect x="458" y="730" width="43" height="19" fill="#c81818"/><rect x="458" y="730" width="6" height="19" fill="#5a0a0a"/>
<path d="M454 740 H507 M462 736 V744 M499 736 V744" stroke="#e01ee0" stroke-width="1.8"/>
<rect x="448" y="818" width="65" height="25" fill="#a8a8a8" stroke="#d8d8d8" stroke-width="1"/>
<rect x="458" y="821" width="43" height="19" fill="#c81818"/><rect x="458" y="821" width="6" height="19" fill="#5a0a0a"/>
<path d="M454 831 H507 M462 827 V835 M499 827 V835" stroke="#e01ee0" stroke-width="1.8"/>
<text class="w" x="467" y="723">ZD1</text><text class="w" x="481" y="768">5V1</text>
<text class="w" x="467" y="813">ZD2</text><text class="w" x="481" y="858">5V1</text>
<!-- U12 -->
<g fill="#a3a3a3"><rect x="1020" y="693" width="10" height="19"/><rect x="1045" y="693" width="10" height="19"/><rect x="1020" y="783" width="10" height="17"/><rect x="1045" y="783" width="10" height="17"/></g>
<g fill="#f4f4f4"><rect x="1023" y="698" width="4" height="9"/><rect x="1048" y="698" width="4" height="9"/><rect x="1023" y="787" width="4" height="9"/><rect x="1048" y="787" width="4" height="9"/></g>
<rect x="1015" y="715" width="47" height="65" fill="#3a3a3a" stroke="#dcdcdc" stroke-width="1"/>
<circle cx="1050" cy="690" r="4" fill="#e01ee0"/><circle cx="1066" cy="700" r="3" fill="#fff"/>
<text class="rd" font-size="11" text-anchor="middle" dominant-baseline="central" transform="translate(1038,748) rotate(90)">U12</text>
<text class="w" x="1019" y="825">U12</text>
<!-- ecaps -->
<use href="#ec" x="524" y="798" width="86" height="68"/><use href="#ec" x="652" y="798" width="86" height="68"/>
<use href="#ec" x="781" y="798" width="86" height="68"/><use href="#ec" x="910" y="798" width="86" height="68"/>
<g class="rn" font-size="16" text-anchor="middle" dominant-baseline="central">
<text transform="translate(570,832) rotate(180)">C11</text><text transform="translate(698,832) rotate(180)">C12</text>
<text transform="translate(827,832) rotate(180)">C13</text><text transform="translate(956,832) rotate(180)">C10</text>
</g>
<text class="w" x="597" y="805">C11</text><text class="w" x="722" y="800">C12</text><text class="w" x="848" y="800">C13</text><text class="w" x="981" y="800">C10</text>
<!-- diodes -->
<rect x="745" y="797" width="28" height="71" fill="none" stroke="#d0d0d0" stroke-width="1"/>
<rect x="749" y="797" width="20" height="11" fill="#a3a3a3"/><rect x="749" y="857" width="20" height="11" fill="#a3a3a3"/>
<rect x="750" y="807" width="18" height="46" fill="#3c3c3c"/><rect x="750" y="842" width="18" height="3" fill="#aaa"/>
<path d="M754 815 H764 M759 810 V820 M754 848 H764" stroke="#e01ee0" stroke-width="1.8"/>
<rect x="873" y="797" width="28" height="71" fill="none" stroke="#d0d0d0" stroke-width="1"/>
<rect x="877" y="797" width="20" height="11" fill="#a3a3a3"/><rect x="877" y="857" width="20" height="11" fill="#a3a3a3"/>
<rect x="878" y="807" width="18" height="46" fill="#3c3c3c"/><rect x="878" y="842" width="18" height="3" fill="#aaa"/>
<path d="M882 815 H892 M887 810 V820 M882 848 H892" stroke="#e01ee0" stroke-width="1.8"/>
<text class="w" x="748" y="785">D2</text><text class="w" x="879" y="785">D1</text>
<!-- right bottom resistors -->
<use href="#rv" x="1011" y="830" width="19" height="43"/><use href="#rv" x="1043" y="830" width="21" height="43"/>
<use href="#rv" x="1009" y="890" width="23" height="45"/><use href="#rv" x="1043" y="890" width="21" height="45"/>
<text class="w" font-size="15" transform="translate(1006,870) rotate(-90)">R27</text>
<text class="w" font-size="15" transform="translate(1038,866) rotate(-90)">R24</text>
<text class="w" font-size="15" transform="translate(1006,927) rotate(-90)">R30</text>
<text class="w" font-size="15" transform="translate(1041,927) rotate(-90)">R25</text>
<!-- C15..C14 -->
<use href="#ch" x="540" y="875" width="52" height="22"/><use href="#ch" x="669" y="875" width="52" height="22"/>
<use href="#ch" x="797" y="875" width="52" height="22"/><use href="#ch" x="926" y="875" width="52" height="22"/>
<text class="w" x="509" y="892">C15</text><text class="w" x="638" y="892">C16</text><text class="w" x="767" y="892">C17</text><text class="w" x="877" y="892">C14</text>
<!-- H1 -->
<text class="w" x="513" y="933">H1</text>
<rect x="538" y="902" width="440" height="52" fill="#f8f8f8"/>
<rect x="538" y="953" width="440" height="26" fill="#1c1c1c"/>
<g fill="none" stroke="#222" stroke-width="2">
<path d="M548 917 V912 A4 4 0 0 1 556 912 V917 M573.6 917 V912 A4 4 0 0 1 581.6 912 V917 M599.2 917 V912 A4 4 0 0 1 607.2 912 V917 M624.8 917 V912 A4 4 0 0 1 632.8 912 V917 M650.4 917 V912 A4 4 0 0 1 658.4 912 V917 M676 917 V912 A4 4 0 0 1 684 912 V917 M701.6 917 V912 A4 4 0 0 1 709.6 912 V917 M727.2 917 V912 A4 4 0 0 1 735.2 912 V917 M752.8 917 V912 A4 4 0 0 1 760.8 912 V917 M778.4 917 V912 A4 4 0 0 1 786.4 912 V917 M804 917 V912 A4 4 0 0 1 812 912 V917 M829.6 917 V912 A4 4 0 0 1 837.6 912 V917 M855.2 917 V912 A4 4 0 0 1 863.2 912 V917 M880.8 917 V912 A4 4 0 0 1 888.8 912 V917 M906.4 917 V912 A4 4 0 0 1 914.4 912 V917 M932 917 V912 A4 4 0 0 1 940 912 V917 M957.6 917 V912 A4 4 0 0 1 965.6 912 V917"/>
<path d="M548.5 935 V945 M555.5 935 V945 M574.1 935 V945 M581.1 935 V945 M599.7 935 V945 M606.7 935 V945 M625.3 935 V945 M632.3 935 V945 M650.9 935 V945 M657.9 935 V945 M676.5 935 V945 M683.5 935 V945 M702.1 935 V945 M709.1 935 V945 M727.7 935 V945 M734.7 935 V945 M753.3 935 V945 M760.3 935 V945 M778.9 935 V945 M785.9 935 V945 M804.5 935 V945 M811.5 935 V945 M830.1 935 V945 M837.1 935 V945 M855.7 935 V945 M862.7 935 V945 M881.3 935 V945 M888.3 935 V945 M906.9 935 V945 M913.9 935 V945 M932.5 935 V945 M939.5 935 V945 M958.1 935 V945 M965.1 935 V945"/>
</g>
<g stroke="#444" stroke-width="1">
<path d="M564.8 953 V979 M590.4 953 V979 M616 953 V979 M641.6 953 V979 M667.2 953 V979 M692.8 953 V979 M718.4 953 V979 M744 953 V979 M769.6 953 V979 M795.2 953 V979 M820.8 953 V979 M846.4 953 V979 M872 953 V979 M897.6 953 V979 M923.2 953 V979 M948.8 953 V979"/>
</g>
<text class="rn" font-size="16" x="750" y="979">H1</text>
<g fill="#f2f2f2" stroke="#7a7a7a" stroke-width="1">
<rect x="548" y="979" width="8" height="63"/><rect x="573.6" y="979" width="8" height="63"/><rect x="599.2" y="979" width="8" height="63"/><rect x="624.8" y="979" width="8" height="63"/>
<rect x="650.4" y="979" width="8" height="63"/><rect x="676" y="979" width="8" height="63"/><rect x="701.6" y="979" width="8" height="63"/><rect x="727.2" y="979" width="8" height="63"/>
<rect x="752.8" y="979" width="8" height="63"/><rect x="778.4" y="979" width="8" height="63"/><rect x="804" y="979" width="8" height="63"/><rect x="829.6" y="979" width="8" height="63"/>
<rect x="855.2" y="979" width="8" height="63"/><rect x="880.8" y="979" width="8" height="63"/><rect x="906.4" y="979" width="8" height="63"/><rect x="932" y="979" width="8" height="63"/>
<rect x="957.6" y="979" width="8" height="63"/>
</g>
</svg>
</body></html>
